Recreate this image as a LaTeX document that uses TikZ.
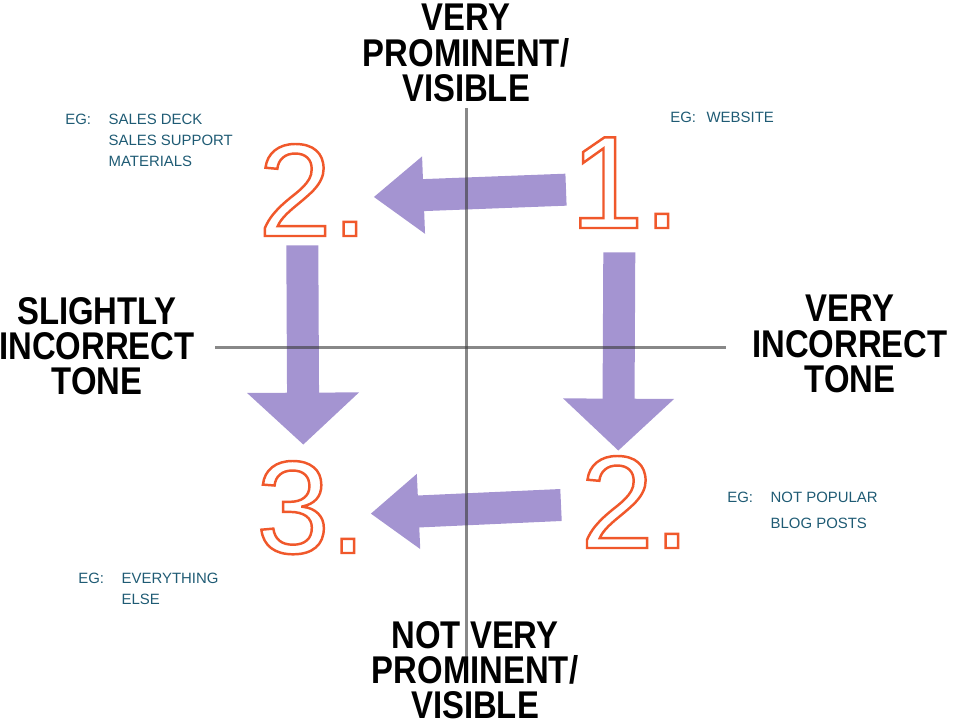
\documentclass[tikz,border=0pt]{standalone}
\usepackage{fontspec}
\setmainfont{Liberation Sans}
\newfontfamily\labelfont[FakeStretch=0.85]{Liberation Sans}
\newfontfamily\numfont{Liberation Sans}
\usetikzlibrary{calc,arrows.meta}
\definecolor{steporange}{HTML}{F0582B}
\definecolor{flowpurple}{HTML}{A494D1}
\definecolor{noteblue}{HTML}{1F5B74}
\definecolor{axisgray}{HTML}{393939}
\def\hollow#1{\special{pdf:literal direct 1 Tr 1.4 w}#1\special{pdf:literal direct 0 Tr}}
\tikzset{
  axislabel/.style={align=center, font=\labelfont\bfseries\fontsize{22}{20}\selectfont},
  stepnum/.style={anchor=base west, inner sep=0pt, text=steporange, font=\numfont\fontsize{75}{75}\selectfont},
  note/.style={anchor=base west, inner sep=0pt, text=noteblue, font=\fontsize{8.5}{10}\selectfont},
  flow/.style={draw=flowpurple, line width=0.64cm},
  axis/.style={draw=axisgray, draw opacity=0.6, line width=0.06cm}
}
\begin{document}
\begin{tikzpicture}[x=0.02cm, y=-0.02cm]
			%%%%% FRAME %%%%%
			\useasboundingbox (0, 0) rectangle (960, 724);
			
			%%%%% NUMBERS %%%%%
			\node[stepnum] (n1) at (570, 228) {\hollow{1.}};
			\node[stepnum] (n2) at (258, 236) {\hollow{2.}};
			\node[stepnum] (n3) at (256, 553) {\hollow{3.}};
			\node[stepnum] (n4) at (580, 548) {\hollow{2.}};
			
			%%%%% ARROWS %%%%%
			\draw[flow, -{Triangle[length=1cm, width=1.48cm]}] ($(n1.west)+(-4, 7)$) -- ($(n2.east)+(5, 7)$);
			\draw[flow, -{Triangle[length=1.04cm, width=2.18cm]}] ($(n2.south)+(-11, 9)$) -- ($(n3.north)+(-8, -16)$);
			\draw[flow, -{Triangle[length=1.04cm, width=2.16cm]}] ($(n1.south)+(-6, 24)$) -- ($(n4.north)+(-17, -5)$);
			\draw[flow, -{Triangle[length=0.96cm, width=1.44cm]}] ($(n4.west)+(-19, 3)$) -- ($(n3.east)+(4, 6)$);
			
			%%%%% AXES %%%%%
			\coordinate (top) at (466, 108);
			\coordinate (bottom) at (466, 680);
			\coordinate (left) at (215, 347);
			\coordinate (right) at (726, 347);
			\draw[axis] (top) -- (bottom);
			\draw[axis] (left) -- (right);
			
			%%%%% LABELS %%%%%
			\node[axislabel] (prominent) at (466, 53) {VERY\\PROMINENT/\\VISIBLE};
			\node[axislabel] (hidden) at (475, 670) {NOT VERY\\PROMINENT/\\VISIBLE};
			\node[axislabel] (slight) at (97, 346) {SLIGHTLY\\INCORRECT\\TONE};
			\node[axislabel] (wrong) at (850, 344) {VERY\\INCORRECT\\TONE};
			
			%%%%% EXAMPLES %%%%%
			\node[note] (eg2) at (65, 124) {\def\arraystretch{1.2}\begin{tabular}[t]{@{}l@{\hspace{10pt}}l@{}}EG: & SALES DECK\\ & SALES SUPPORT\\ & MATERIALS\end{tabular}};
			\node[note] (eg1) at (670, 122) {EG:\hspace{6pt}WEBSITE};
			\node[note] (eg4) at (727, 502) {\def\arraystretch{1.5}\begin{tabular}[t]{@{}l@{\hspace{10pt}}l@{}}EG: & NOT POPULAR\\ & BLOG POSTS\end{tabular}};
			\node[note] (eg3) at (78, 583) {\def\arraystretch{1.2}\begin{tabular}[t]{@{}l@{\hspace{10pt}}l@{}}EG: & EVERYTHING\\ & ELSE\end{tabular}};
			
			%%%%% END %%%%%
\end{tikzpicture}
\end{document}
